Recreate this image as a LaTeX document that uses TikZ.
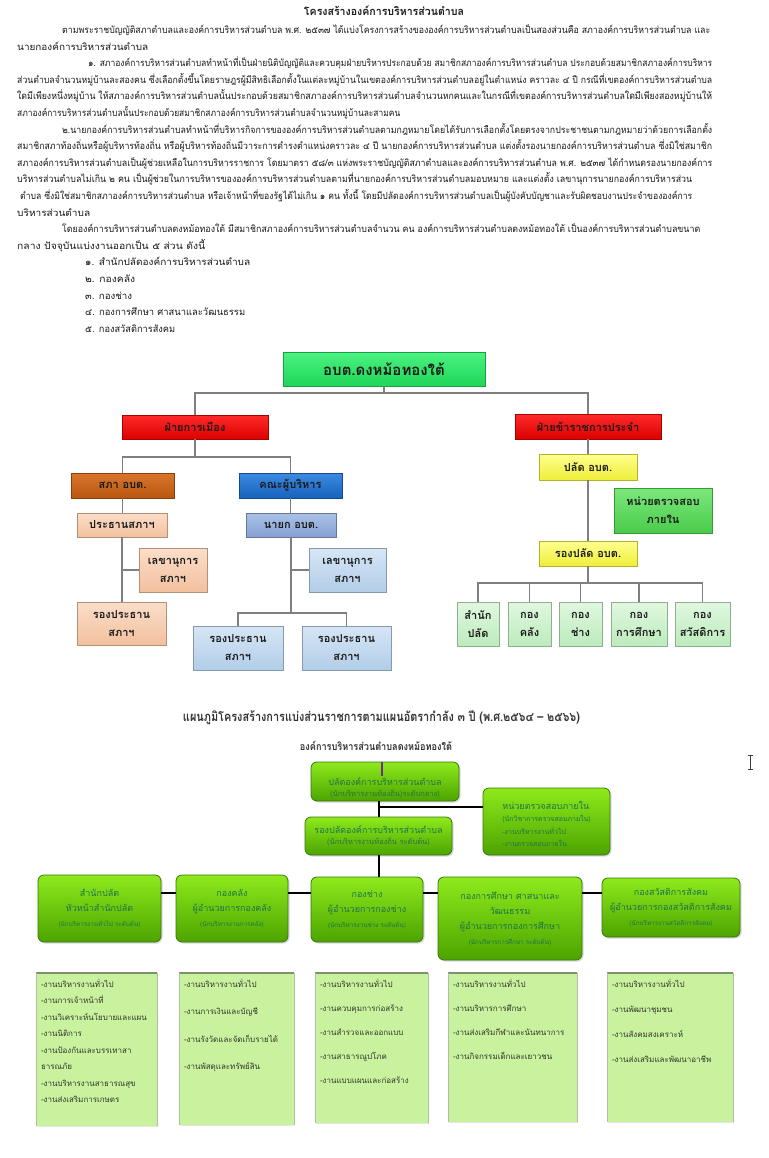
\documentclass[tikz,border=0pt]{standalone}
\usepackage{fontspec}
\setmainfont[Script=Thai]{Loma}
\usetikzlibrary{shadows}
\definecolor{txt}{HTML}{1A1A1A}
\definecolor{gA}{HTML}{4CF280}\definecolor{gB}{HTML}{1ED658}
\definecolor{rA}{HTML}{FF2A2A}\definecolor{rB}{HTML}{DD0000}
\definecolor{oA}{HTML}{DA772C}\definecolor{oB}{HTML}{B85510}
\definecolor{bA}{HTML}{3C8AE2}\definecolor{bB}{HTML}{1762BC}
\definecolor{pA}{HTML}{FBDEC9}\definecolor{pB}{HTML}{F2C09E}
\definecolor{nA}{HTML}{ABC1E7}\definecolor{nB}{HTML}{85A0D3}
\definecolor{lA}{HTML}{D6E6F5}\definecolor{lB}{HTML}{B2CDE8}
\definecolor{yA}{HTML}{FFFF90}\definecolor{yB}{HTML}{EEEE3A}
\definecolor{mA}{HTML}{7CE87C}\definecolor{mB}{HTML}{4ACB4A}
\definecolor{sA}{HTML}{E0F8E0}\definecolor{sB}{HTML}{BCEBBC}
\definecolor{lineg}{HTML}{7F7F7F}
\definecolor{GA}{HTML}{8EEA1C}\definecolor{GB}{HTML}{4CA400}\definecolor{Gd}{HTML}{3A760A}
\definecolor{gtx}{HTML}{1D7448}
\definecolor{task}{HTML}{C8F29E}\definecolor{taskE}{HTML}{7E9070}
\definecolor{ttx}{HTML}{33332A}
\definecolor{pline}{HTML}{6B2D8F}
\definecolor{ttl}{HTML}{333333}
\definecolor{curs}{HTML}{3C3C3C}
\newcommand{\fl}[2]{\resizebox{#1pt}{\height}{#2}}
\tikzset{
 para/.style={anchor=base west, inner sep=0pt, text=txt, font=\fontsize{9.5}{11}\selectfont},
 bev/.style 2 args={top color=#1, bottom color=#2, draw=#2!75!black, line width=0.4pt,
   inner sep=1pt, align=center, text=txt, font=\bfseries\fontsize{11}{18}\selectfont,
   drop shadow={shadow xshift=1.3pt, shadow yshift=-1.3pt, opacity=0.3}},
 c1/.style={draw=lineg, line width=1.2pt},
 c2/.style={draw=black, line width=1.4pt},
 gbox/.style={rounded corners=6pt, top color=GA, bottom color=GB, draw=Gd, line width=0.8pt,
   align=center, text=gtx, inner sep=2pt, font=\fontsize{9}{15}\selectfont,
   drop shadow={shadow xshift=1.5pt, shadow yshift=-1.5pt, opacity=0.3}},
 tbox/.style={fill=task, draw=none, inner sep=0pt,
   drop shadow={shadow xshift=1pt, shadow yshift=-1pt, opacity=0.2}},
 ttext/.style={anchor=north west, align=left, inner sep=0pt, text=ttx},
}
\begin{document}
\begin{tikzpicture}[x=1pt,y=-1pt]
\useasboundingbox[fill=white] (0,0) rectangle (768,1158);

% ---------- text ----------
\node[para,anchor=base,font=\bfseries\fontsize{11}{13}\selectfont] (p0) at (384,16) {\fl{160}{โครงสร้างองค์การบริหารส่วนตำบล}};
\node[para] (p1) at (62,33.5) {\fl{648}{ตามพระราชบัญญัติสภาตำบลและองค์การบริหารส่วนตำบล พ.ศ. ๒๕๓๗ ได้แบ่งโครงการสร้างขององค์การบริหารส่วนตำบลเป็นสองส่วนคือ สภาองค์การบริหารส่วนตำบล และ}};
\node[para] (p2) at (17,50.1) {\fl{131}{นายกองค์การบริหารส่วนตำบล}};
\node[para] (p3) at (88,66.7) {\fl{624}{๑. สภาองค์การบริหารส่วนตำบลทำหน้าที่เป็นฝ่ายนิติบัญญัติและควบคุมฝ่ายบริหารประกอบด้วย สมาชิกสภาองค์การบริหารส่วนตำบล ประกอบด้วยสมาชิกสภาองค์การบริหาร}};
\node[para] (p4) at (17,83.3) {\fl{695}{ส่วนตำบลจำนวนหมู่บ้านละสองคน ซึ่งเลือกตั้งขึ้นโดยราษฎรผู้มีสิทธิเลือกตั้งในแต่ละหมู่บ้านในเขตองค์การบริหารส่วนตำบลอยู่ในตำแหน่ง คราวละ ๔ ปี กรณีที่เขตองค์การบริหารส่วนตำบล}};
\node[para] (p5) at (17,99.9) {\fl{695}{ใดมีเพียงหนึ่งหมู่บ้าน ให้สภาองค์การบริหารส่วนตำบลนั้นประกอบด้วยสมาชิกสภาองค์การบริหารส่วนตำบลจำนวนหกคนและในกรณีที่เขตองค์การบริหารส่วนตำบลใดมีเพียงสองหมู่บ้านให้}};
\node[para] (p6) at (17,116.5) {\fl{383}{สภาองค์การบริหารส่วนตำบลนั้นประกอบด้วยสมาชิกสภาองค์การบริหารส่วนตำบลจำนวนหมู่บ้านละสามคน}};
\node[para] (p7) at (62,133.1) {\fl{650}{๒.นายกองค์การบริหารส่วนตำบลทำหน้าที่บริหารกิจการขององค์การบริหารส่วนตำบลตามกฎหมายโดยได้รับการเลือกตั้งโดยตรงจากประชาชนตามกฎหมายว่าด้วยการเลือกตั้ง}};
\node[para] (p8) at (17,149.7) {\fl{695}{สมาชิกสภาท้องถิ่นหรือผู้บริหารท้องถิ่น หรือผู้บริหารท้องถิ่นมีวาระการดำรงตำแหน่งคราวละ ๔ ปี  นายกองค์การบริหารส่วนตำบล แต่งตั้งรองนายกองค์การบริหารส่วนตำบล  ซึ่งมิใช่สมาชิก}};
\node[para] (p9) at (17,166.3) {\fl{695}{สภาองค์การบริหารส่วนตำบลเป็นผู้ช่วยเหลือในการบริหารราชการ  โดยมาตรา ๕๘/๓ แห่งพระราชบัญญัติสภาตำบลและองค์การบริหารส่วนตำบล พ.ศ. ๒๕๓๗ ได้กำหนดรองนายกองค์การ}};
\node[para] (p10) at (17,182.9) {\fl{675}{บริหารส่วนตำบลไม่เกิน ๒ คน เป็นผู้ช่วยในการบริหารขององค์การบริหารส่วนตำบลตามที่นายกองค์การบริหารส่วนตำบลมอบหมาย  และแต่งตั้ง เลขานุการนายกองค์การบริหารส่วน}};
\node[para] (p11) at (20,199.5) {\fl{672}{ตำบล ซึ่งมิใช่สมาชิกสภาองค์การบริหารส่วนตำบล หรือเจ้าหน้าที่ของรัฐได้ไม่เกิน  ๑ คน  ทั้งนี้  โดยมีปลัดองค์การบริหารส่วนตำบลเป็นผู้บังคับบัญชาและรับผิดชอบงานประจำขององค์การ}};
\node[para] (p12) at (17,216.1) {\fl{73}{บริหารส่วนตำบล}};
\node[para] (p13) at (62,232.7) {\fl{638}{โดยองค์การบริหารส่วนตำบลดงหม้อทองใต้ มีสมาชิกสภาองค์การบริหารส่วนตำบลจำนวน  คน  องค์การบริหารส่วนตำบลดงหม้อทองใต้ เป็นองค์การบริหารส่วนตำบลขนาด}};
\node[para] (p14) at (17,249.3) {\fl{188}{กลาง  ปัจจุบันแบ่งงานออกเป็น ๕ ส่วน  ดังนี้}};
\node[para] (p15) at (85,265.9) {\fl{165}{๑. สำนักปลัดองค์การบริหารส่วนตำบล}};
\node[para] (p16) at (85,282.5) {\fl{50}{๒. กองคลัง}};
\node[para] (p17) at (85,299.1) {\fl{47}{๓. กองช่าง}};
\node[para] (p18) at (85,315.7) {\fl{160}{๔. กองการศึกษา ศาสนาและวัฒนธรรม}};
\node[para] (p19) at (85,332.3) {\fl{90}{๕. กองสวัสดิการสังคม}};

% ---------- chart 1 ----------
\node[bev={gA}{gB}, minimum width=202pt, minimum height=34pt, font=\bfseries\fontsize{15}{18}\selectfont] (top) at (384,369) {อบต.ดงหม้อทองใต้};
\node[bev={rA}{rB}, minimum width=146pt, minimum height=24pt] (pol) at (195,427) {ฝ่ายการเมือง};
\node[bev={rA}{rB}, minimum width=146pt, minimum height=25pt] (adm) at (588,426.5) {ฝ่ายข้าราชการประจำ};
\node[bev={oA}{oB}, minimum width=103pt, minimum height=25pt] (sapha) at (122.5,485.5) {สภา อบต.};
\node[bev={bA}{bB}, minimum width=103pt, minimum height=25pt] (khana) at (290.5,485.5) {คณะผู้บริหาร};
\node[bev={pA}{pB}, minimum width=90pt, minimum height=24pt] (prathan) at (122,525) {ประธานสภาฯ};
\node[bev={pA}{pB}, minimum width=68pt, minimum height=44pt] (lekA) at (173,570) {เลขานุการ\\สภาฯ};
\node[bev={pA}{pB}, minimum width=89pt, minimum height=43pt] (rongA) at (121.5,623.5) {รองประธาน\\สภาฯ};
\node[bev={nA}{nB}, minimum width=90pt, minimum height=24pt] (nayok) at (291,525) {นายก อบต.};
\node[bev={lA}{lB}, minimum width=77pt, minimum height=44pt] (lekB) at (347.5,570) {เลขานุการ\\สภาฯ};
\node[bev={lA}{lB}, minimum width=90pt, minimum height=44pt] (rongB) at (238,648) {รองประธาน\\สภาฯ};
\node[bev={lA}{lB}, minimum width=89pt, minimum height=44pt] (rongC) at (346.5,648) {รองประธาน\\สภาฯ};
\node[bev={yA}{yB}, minimum width=98pt, minimum height=26pt] (palat) at (588,467) {ปลัด อบต.};
\node[bev={mA}{mB}, minimum width=98pt, minimum height=45pt] (audit) at (663,510.5) {หน่วยตรวจสอบ\\ภายใน};
\node[bev={yA}{yB}, minimum width=98pt, minimum height=25pt] (rongpalat) at (588,553.5) {รองปลัด อบต.};
\node[bev={sA}{sB}, minimum width=42pt, minimum height=44pt] (d1) at (478,624) {สำนัก\\ปลัด};
\node[bev={sA}{sB}, minimum width=43pt, minimum height=44pt] (d2) at (529.5,624) {กอง\\คลัง};
\node[bev={sA}{sB}, minimum width=43pt, minimum height=44pt] (d3) at (580.5,624) {กอง\\ช่าง};
\node[bev={sA}{sB}, minimum width=56pt, minimum height=44pt] (d4) at (639,624) {กอง\\การศึกษา};
\node[bev={sA}{sB}, minimum width=55pt, minimum height=44pt] (d5) at (702.5,624) {กอง\\สวัสดิการ};

\coordinate (j1) at (384,393);
\draw[c1] (top.south) -- (j1);
\draw[c1] (pol.north) |- (j1) -| (adm.north);
\coordinate (j2) at (195,457);
\draw[c1] (pol.south) -- (j2);
\draw[c1] (sapha.north) |- (j2) -| (khana.north);
\draw[c1] (sapha.south) -- (prathan.north -| sapha.south);
\draw[c1] (prathan.south) -- (rongA.north -| prathan.south);
\draw[c1] (lekA.west) -- (lekA.west -| prathan.south);
\draw[c1] (khana.south) -- (nayok.north -| khana.south);
\coordinate (j3) at (291,613);
\draw[c1] (nayok.south) -- (j3);
\draw[c1] (rongB.north) |- (j3) -| (rongC.north);
\draw[c1] (lekB.west) -- (lekB.west -| nayok.south);
\draw[c1] (adm.south) -- (palat.north);
\draw[c1] (palat.south) -- (rongpalat.north);
\coordinate (j4) at (588,583);
\draw[c1] (rongpalat.south) -- (j4);
\draw[c1] (d1.north) |- (j4) -| (d5.north);
\draw[c1] (d2.north) -- (d2.north |- j4);
\draw[c1] (d3.north) -- (d3.north |- j4);
\draw[c1] (d4.north) -- (d4.north |- j4);

% ---------- chart 2 ----------
\node[inner sep=0pt, text=ttl, font=\bfseries\fontsize{13}{15}\selectfont] (t2) at (381.5,718) {\fl{397}{แผนภูมิโครงสร้างการแบ่งส่วนราชการตามแผนอัตรากำลัง  ๓ ปี (พ.ศ.๒๕๖๔ – ๒๕๖๖)}};
\node[inner sep=0pt, text=ttl, font=\bfseries\fontsize{10.5}{12}\selectfont] (st2) at (376,746) {\fl{152}{องค์การบริหารส่วนตำบลดงหม้อทองใต้}};

\node[gbox, minimum width=148pt, minimum height=39pt, font=\fontsize{9}{11}\selectfont] (palat2) at (385,781.5) {\rule{0pt}{21pt}ปลัดองค์การบริหารส่วนตำบล\\{\fontsize{7.5}{9}\selectfont (นักบริหารงานท้องถิ่น)ระดับกลาง)}};
\node[gbox, minimum width=127pt, minimum height=67pt, align=left, font=\fontsize{7}{12.3}\selectfont] (audit2) at (546.5,821.5) {\rule{0pt}{13pt}{\fontsize{9}{12}\selectfont หน่วยตรวจสอบภายใน}\\(นักวิชาการตรวจสอบภายใน)\\-งานบริหารงานทั่วไป\\-งานตรวจสอบภายใน};
\node[gbox, minimum width=147pt, minimum height=38pt, font=\fontsize{9}{11}\selectfont] (rong2) at (378.5,836) {รองปลัดองค์การบริหารส่วนตำบล\\{\fontsize{7.5}{9}\selectfont (นักบริหารงานท้องถิ่น ระดับต้น)}};

\node[gbox, minimum width=123pt, minimum height=67pt] (sp) at (99.5,908.5) {สำนักปลัด\\หัวหน้าสำนักปลัด\\{\fontsize{6.3}{8}\selectfont (นักบริหารงานทั่วไป ระดับต้น)}};
\node[gbox, minimum width=112pt, minimum height=67pt] (kk) at (232,908.5) {กองคลัง\\ผู้อำนวยการกองคลัง\\{\fontsize{6.3}{8}\selectfont (นักบริหารงานการคลัง)}};
\node[gbox, minimum width=112pt, minimum height=65pt] (kc) at (367,909.5) {กองช่าง\\ผู้อำนวยการกองช่าง\\{\fontsize{6.3}{8}\selectfont (นักบริหารงานช่าง ระดับต้น)}};
\node[gbox, minimum width=144pt, minimum height=83pt] (ke) at (510,918.5) {กองการศึกษา  ศาสนาและ\\วัฒนธรรม\\ผู้อำนวยการกองการศึกษา\\{\fontsize{6.3}{8}\selectfont (นักบริหารการศึกษา  ระดับต้น)}};
\node[gbox, minimum width=138pt, minimum height=59pt] (ks) at (671,907.5) {กองสวัสดิการสังคม\\ผู้อำนวยการกองสวัสดิการสังคม\\{\fontsize{6.3}{8}\selectfont (นักบริหารงานสวัสดิการสังคม)}};

\coordinate (j5) at (379,807);
\draw[c2] (palat2.south -| j5) -- (rong2.north -| j5);
\draw[c2] (j5) -- (j5 -| audit2.west);
\draw[c2] (rong2.south -| j5) -- (kc.north -| j5);
\coordinate (hy) at (0,893);
\draw[c2] (sp.east |- hy) -- (kk.west |- hy);
\draw[c2] (kk.east |- hy) -- (kc.west |- hy);
\draw[c2] (kc.east |- hy) -- (ke.west |- hy);
\draw[c2] (ke.east |- hy) -- (ks.west |- hy);
\draw[draw=pline, line width=1.4pt] ([xshift=-3pt]palat2.north) -- ++(0,14);

% task boxes
\node[tbox, minimum width=121pt, minimum height=153pt] (tb1) at (96.5,1049.5) {};
\node[tbox, minimum width=115pt, minimum height=152pt] (tb2) at (236.5,1049) {};
\node[tbox, minimum width=113pt, minimum height=150pt] (tb3) at (371.5,1048) {};
\node[tbox, minimum width=129pt, minimum height=149pt] (tb4) at (512.5,1047.5) {};
\node[tbox, minimum width=126pt, minimum height=149pt] (tb5) at (670,1047.5) {};
\foreach \b in {tb1,tb2,tb3,tb4,tb5}{
  \draw[taskE, line width=2pt] (\b.north west) -- (\b.north east);
  \draw[taskE!60, line width=0.6pt] (\b.north west) -- (\b.south west);
  \draw[taskE!60, line width=0.6pt] (\b.north east) -- (\b.south east);
}
\node[ttext, font=\fontsize{8}{16.5}\selectfont] (x1) at ([xshift=5pt,yshift=-6pt]tb1.north west) {-งานบริหารงานทั่วไป\\-งานการเจ้าหน้าที่\\-งานวิเคราะห์นโยบายและแผน\\-งานนิติการ\\-งานป้องกันและบรรเทาสา\\ธารณภัย\\-งานบริหารงานสาธารณสุข\\-งานส่งเสริมการเกษตร};
\node[ttext, font=\fontsize{8}{27.5}\selectfont] (x2) at ([xshift=5pt,yshift=-6pt]tb2.north west) {-งานบริหารงานทั่วไป\\-งานการเงินและบัญชี\\-งานรังวัดและจัดเก็บรายได้\\-งานพัสดุและทรัพย์สิน};
\node[ttext, font=\fontsize{8}{24}\selectfont] (x3) at ([xshift=5pt,yshift=-6pt]tb3.north west) {-งานบริหารงานทั่วไป\\-งานควบคุมการก่อสร้าง\\-งานสำรวจและออกแบบ\\-งานสาธารณูปโภค\\-งานแบบแผนและก่อสร้าง};
\node[ttext, font=\fontsize{8}{24}\selectfont] (x4) at ([xshift=5pt,yshift=-6pt]tb4.north west) {-งานบริหารงานทั่วไป\\-งานบริหารการศึกษา\\-งานส่งเสริมกีฬาและนันทนาการ\\-งานกิจกรรมเด็กและเยาวชน};
\node[ttext, font=\fontsize{8}{25}\selectfont] (x5) at ([xshift=5pt,yshift=-6pt]tb5.north west) {-งานบริหารงานทั่วไป\\-งานพัฒนาชุมชน\\-งานสังคมสงเคราะห์\\-งานส่งเสริมและพัฒนาอาชีพ};

% text cursor
\draw[line width=0.8pt, draw=curs] (747.5,755) -- (752.5,755) (750,755) -- (750,769) (747.5,769) -- (752.5,769);
\end{tikzpicture}
\end{document}
